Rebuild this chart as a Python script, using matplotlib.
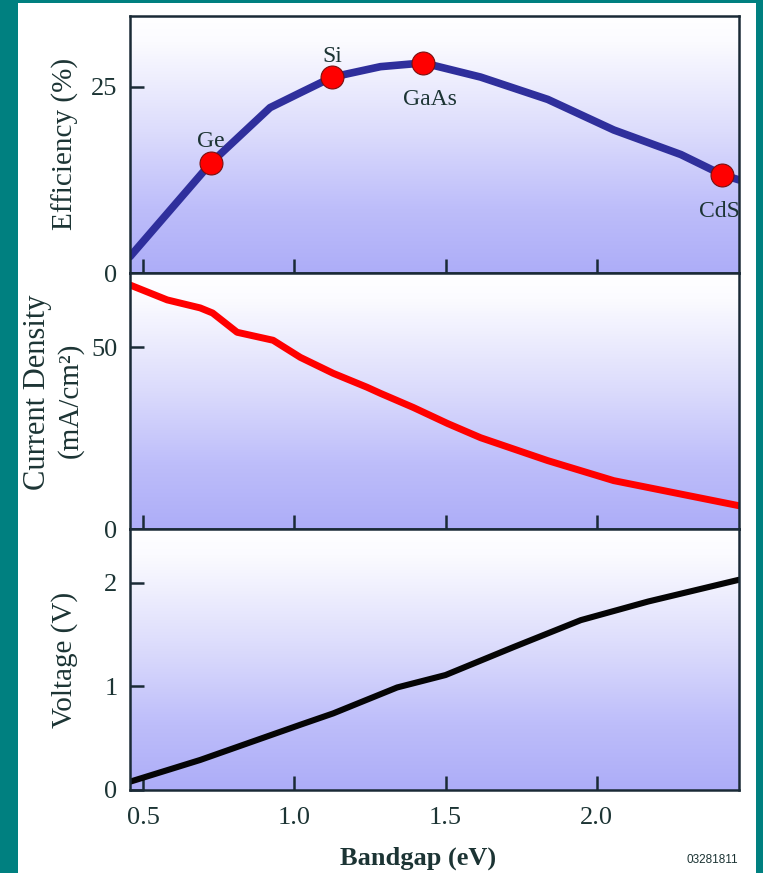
import numpy as np
import matplotlib
matplotlib.use("Agg")
import matplotlib.pyplot as plt
from matplotlib.patches import Rectangle
from matplotlib.colors import LinearSegmentedColormap

# ---- data ----
eff_gap = [0.457, 0.725, 0.92, 1.02, 1.126, 1.285, 1.427, 1.616, 1.838, 2.056, 2.278, 2.414, 2.47]
eff_val = [2.2, 14.8, 22.2, 24.2, 26.3, 27.7, 28.2, 26.3, 23.3, 19.2, 15.9, 13.2, 12.5]

materials = ["Ge", "Si", "GaAs", "CdS"]
mat_gap = [0.725, 1.126, 1.427, 2.414]
mat_eff = [14.8, 26.3, 28.2, 13.2]

cur_gap = [0.457, 0.58, 0.689, 0.73, 0.811, 0.93, 1.02, 1.129, 1.24, 1.285, 1.394,
           1.507, 1.616, 1.838, 2.056, 2.278, 2.47]
cur_val = [67.1, 63.0, 60.8, 59.4, 54.1, 51.9, 47.2, 42.8, 39.0, 37.3, 33.4,
           29.0, 25.1, 18.8, 13.3, 9.6, 6.4]

volt_gap = [0.457, 0.689, 1.02, 1.129, 1.34, 1.5, 1.725, 1.947, 2.17, 2.47]
volt_val = [0.08, 0.29, 0.63, 0.74, 0.99, 1.11, 1.38, 1.64, 1.82, 2.03]

xticks = [0.5, 1.0, 1.5, 2.0]
xticklabels = ["0.5", "1.0", "1.5", "2.0"]

# ---- style ----
W, H = 763, 873
TEXT = "#1c3434"
SPINE = "#1a2a36"
SERIF = ["Liberation Serif", "DejaVu Serif"]
plt.rcParams["font.family"] = SERIF

fig = plt.figure(figsize=(W / 100, H / 100), dpi=100)
fig.patch.set_facecolor("#008080")
fig.patches.append(Rectangle((18 / W, 0), (756 - 18) / W, 1 - 3 / H,
                             transform=fig.transFigure, facecolor="white",
                             edgecolor="none", zorder=-10))

# white at the top of each panel fading to lavender at the bottom
grad = LinearSegmentedColormap.from_list(
    "panel",
    [(0.0, "#ffffff"), (0.1, "#fbfbff"), (0.45, "#dcdcfc"),
     (0.75, "#bdbdfa"), (1.0, "#adadf8")])


def px_axes(top, bottom):
    left, right = 130, 739
    ax = fig.add_axes([left / W, 1 - bottom / H, (right - left) / W, (bottom - top) / H])
    ax.set_zorder(1)
    return ax


def style(ax, ylim, yticks, show_xlabels=False):
    ax.set_xlim(0.457, 2.47)
    ax.set_ylim(*ylim)
    g = np.linspace(0, 1, 256).reshape(-1, 1)
    ax.imshow(g, cmap=grad, aspect="auto", extent=[0, 1, 0, 1], origin="upper",
              transform=ax.transAxes, zorder=0, vmin=0, vmax=1)
    ax.set_xticks(xticks)
    ax.set_xticklabels(xticklabels if show_xlabels else [])
    ax.set_yticks(yticks)
    ax.set_yticklabels([str(t) for t in yticks])
    ax.tick_params(direction="in", length=10, width=1.8, color=SPINE,
                   labelsize=19, labelcolor=TEXT, pad=9)
    ax.tick_params(axis="x", pad=12)
    for s in ax.spines.values():
        s.set_color(SPINE)
        s.set_linewidth(1.8)
        s.set_zorder(5)
    ax.set_facecolor("none")


# efficiency panel
ax1 = px_axes(16, 273)
style(ax1, (0, 34.5), [0, 25])
ax1.plot(eff_gap, eff_val, color="#2f2f9c", lw=5.5, solid_capstyle="round",
         solid_joinstyle="round", zorder=3)
ax1.plot(mat_gap, mat_eff, "o", color="#ff0000", ms=16.5, mec="#7a1010",
         mew=0.8, zorder=4, clip_on=False)
label_off = {"Ge": (0, 1.4, "bottom"), "Si": (0, 1.4, "bottom"),
             "GaAs": (0.02, -3.5, "top"), "CdS": (-0.01, -3.6, "top")}
for name, gx, gy in zip(materials, mat_gap, mat_eff):
    dx, dy, va = label_off[name]
    ax1.text(gx + dx, gy + dy, name, ha="center", va=va, fontsize=17,
             color=TEXT, zorder=6)

# current density panel
ax2 = px_axes(273, 529)
style(ax2, (0, 70.4), [0, 50])
ax2.plot(cur_gap, cur_val, color="#ff0000", lw=5.0, solid_capstyle="round",
         solid_joinstyle="round", zorder=3)

# voltage panel
ax3 = px_axes(529, 790)
style(ax3, (0, 2.52), [0, 1, 2], show_xlabels=True)
ax3.plot(volt_gap, volt_val, color="#050505", lw=4.4, solid_capstyle="round",
         solid_joinstyle="round", zorder=3)

# axis titles
fig.text(65 / W, 1 - 144 / H, "Efficiency (%)", rotation=90, ha="center",
         va="center", fontsize=21, color=TEXT)
fig.text(38 / W, 1 - 392 / H, "Current Density", rotation=90, ha="center",
         va="center", fontsize=22, color=TEXT)
fig.text(70 / W, 1 - 400 / H, "(mA/cm²)", rotation=90, ha="center",
         va="center", fontsize=21, color=TEXT)
fig.text(65 / W, 1 - 660 / H, "Voltage (V)", rotation=90, ha="center",
         va="center", fontsize=21, color=TEXT)
fig.text(418 / W, 1 - 858 / H, "Bandgap (eV)", ha="center", va="center",
         fontsize=19, fontweight="bold", color=TEXT)
fig.text(712 / W, 1 - 860 / H, "03281811", ha="center", va="center",
         fontsize=8.5, color=TEXT, family=["Liberation Sans", "DejaVu Sans"])

fig.savefig("out.png", dpi=100, facecolor=fig.get_facecolor())
